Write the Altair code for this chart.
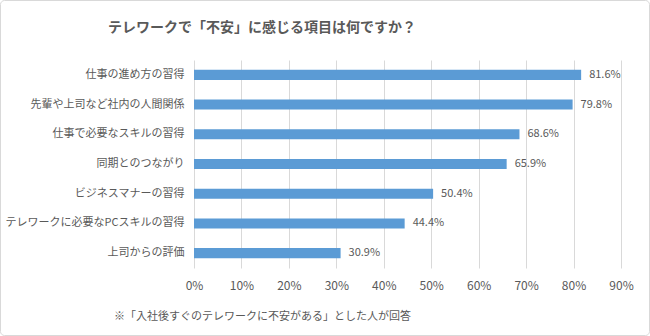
import altair as alt
import pandas as pd

categories = [
    "仕事の進め方の習得",
    "先輩や上司など社内の人間関係",
    "仕事で必要なスキルの習得",
    "同期とのつながり",
    "ビジネスマナーの習得",
    "テレワークに必要なPCスキルの習得",
    "上司からの評価",
]
values = [81.6, 79.8, 68.6, 65.9, 50.4, 44.4, 30.9]
tick_values = [0, 10, 20, 30, 40, 50, 60, 70, 80, 90]

title_text = "テレワークで「不安」に感じる項目は何ですか？"
footnote = "※「入社後すぐのテレワークに不安がある」とした人が回答"

df = pd.DataFrame({"category": categories, "value": values})
df["label"] = [f"{v:.1f}%" for v in values]

FONT = "Noto Sans CJK JP"
GREY = "#595959"
W, H = 427, 208
PL, PT = 194, 60
CX = 262 - PL  # horizontal centre of title / footnote relative to plot

x_enc = alt.X(
    "value:Q",
    scale=alt.Scale(domain=[0, 90], nice=False),
    axis=alt.Axis(
        values=tick_values,
        labelExpr="datum.value + '%'",
        labelFlush=False,
        grid=True,
        gridColor="#d9d9d9",
        domain=False,
        ticks=False,
        labelPadding=12,
        labelFontSize=12,
        labelColor=GREY,
        labelFont=FONT,
        title=footnote,
        titleFont=FONT,
        titleFontSize=11,
        titleFontWeight="normal",
        titleColor=GREY,
        titleAlign="center",
        titleAnchor="start",
        titleBaseline="middle",
        titleX=CX,
        titleY=48,
    ),
)
y_enc = alt.Y(
    "category:N",
    sort=categories,
    scale=alt.Scale(paddingInner=0.66, paddingOuter=0.33),
    axis=alt.Axis(
        title=None,
        domain=False,
        ticks=False,
        labelPadding=10,
        labelFontSize=11,
        labelColor=GREY,
        labelFont=FONT,
        labelLimit=300,
        grid=False,
    ),
)

bars = alt.Chart(df).mark_bar(color="#5B9BD5").encode(x=x_enc, y=y_enc)
labels = alt.Chart(df).mark_text(
    align="left", baseline="middle", dx=8, fontSize=11, color=GREY, font=FONT
).encode(x="value:Q", y=alt.Y("category:N", sort=categories), text="label:N")

one = df.head(1)
border = alt.Chart(one).mark_rect(
    filled=False, stroke="#d9d9d9", strokeWidth=1, cornerRadius=4
).encode(
    x=alt.value(-PL + 0.5),
    x2=alt.value(650 - PL - 0.5),
    y=alt.value(-PT + 0.5),
    y2=alt.value(336 - PT - 0.5),
)
title = alt.Chart(one).mark_text(
    align="center", baseline="middle", font=FONT, fontSize=14,
    fontWeight="bold", color=GREY,
).encode(x=alt.value(CX), y=alt.value(28 - PT), text=alt.value(title_text))

chart = (
    alt.layer(border, bars, labels, title)
    .properties(
        width=W,
        height=H,
        autosize=alt.AutoSizeParams(type="none"),
        padding={"left": PL, "top": PT, "right": 650 - PL - W, "bottom": 336 - PT - H},
        background="white",
    )
    .configure_view(stroke=None)
)

chart.save("out.html", embed_options={"renderer": "svg", "actions": False})
